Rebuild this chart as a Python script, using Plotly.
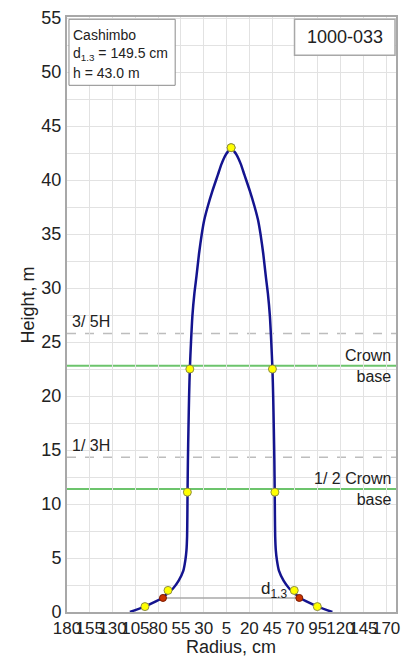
import plotly.graph_objects as go

# Stem profile: radius (cm) against height (m)
stem_h = [0, 0.5, 1.0, 1.3, 1.7, 2.2, 2.9, 3.8, 4.8, 5.7, 7.0, 9.0, 11.1, 14.0, 17.0,
          20.0, 22.5, 25.0, 27.4, 29.5, 31.1, 33.2, 35.0, 36.3, 37.6, 39.0, 40.5, 41.5, 42.4, 43.0]
stem_r = [111, 95, 82, 75.5, 70, 63.5, 57.5, 52.5, 50.2, 49.0, 48.3, 48.0, 47.8, 47.4, 46.8,
          46.1, 45.3, 44.0, 42.5, 40.3, 38.0, 35.2, 32.2, 29.5, 25.5, 20.5, 14.5, 10.5, 5.5, 0]

# Measured points on the stem
point_h = [0.5, 2.0, 11.1, 22.5, 43.0]
point_r = [94.5, 69.2, 48.0, 45.3, 0.0]

species = "Cashimbo"
tree_id = "1000-033"
dbh_cm = 149.5
tree_h = 43.0
breast_h = 1.3
crown_base = 22.8

x_ticks = list(range(-180, 171, 25))
x_ticktext = [str(abs(v)) for v in x_ticks]

FONT = "Liberation Sans, Arial, sans-serif"
NAVY = "#14148f"
GREEN = "#6cc46c"
GRID = "#e2e2e2"

fig = go.Figure()

# Left and right halves of the stem outline
for sign in (-1, 1):
    fig.add_trace(go.Scatter(x=[sign * r for r in stem_r], y=stem_h, mode="lines",
                             line=dict(color=NAVY, width=2.5, shape="spline", smoothing=0.6),
                             hoverinfo="skip"))

# Breast-height diameter line
half_d = dbh_cm / 2
fig.add_trace(go.Scatter(x=[-half_d, half_d], y=[breast_h, breast_h], mode="lines",
                         line=dict(color="#a8a8a8", width=1.6), hoverinfo="skip"))

# Measured points, both sides
fig.add_trace(go.Scatter(x=[-r for r in point_r] + point_r, y=point_h + point_h,
                         mode="markers",
                         marker=dict(color="#ffff00", size=8, line=dict(color="#8f8f40", width=1))))
fig.add_trace(go.Scatter(x=[-half_d, half_d], y=[breast_h, breast_h], mode="markers",
                         marker=dict(color="#cc3300", size=7, line=dict(color="#7a1a00", width=1))))

shapes = []
# Reference heights
for yv in (tree_h * 3 / 5, tree_h / 3):
    shapes.append(dict(type="line", xref="paper", x0=0, x1=1, yref="y", y0=yv, y1=yv,
                       line=dict(color="#bdbdbd", width=1.5, dash="dash"), layer="between"))
for yv in (crown_base, crown_base / 2):
    shapes.append(dict(type="line", xref="paper", x0=0, x1=1, yref="y", y0=yv, y1=yv,
                       line=dict(color=GREEN, width=2), layer="between"))

# Info boxes (paper coordinates)
W, H = 333.0, 601.0
def px(x):
    return (x - 67) / W
def py(y):
    return (612 - y) / H

shapes.append(dict(type="rect", xref="paper", yref="paper", x0=px(69), x1=px(176.5),
                   y0=py(80), y1=py(13.3), fillcolor="white",
                   line=dict(color="#8a8a8a", width=1), layer="above"))
shapes.append(dict(type="rect", xref="paper", yref="paper", x0=px(297.3), x1=px(399),
                   y0=py(49.7), y1=py(13.3), fillcolor="white",
                   line=dict(color="#a8a8a8", width=1.5), layer="above"))

ann = []
info_lines = [species, f"d<sub>1.3</sub> = {dbh_cm:.1f} cm", f"h = {tree_h:.1f} m"]
for i, t in enumerate(info_lines):
    ann.append(dict(text=t, xref="paper", yref="paper", x=px(71), y=py(29 + i * 19.5),
                    xanchor="left", yanchor="middle", showarrow=False,
                    font=dict(family=FONT, size=14, color="#222")))
ann.append(dict(text=tree_id, xref="paper", yref="paper", x=px(348), y=py(31.5),
                xanchor="center", yanchor="middle", showarrow=False,
                font=dict(family=FONT, size=18, color="#222")))

# Labels for reference heights
ann.append(dict(text="3/ 5H", xref="paper", yref="y", x=px(70), y=tree_h * 3 / 5,
                xanchor="left", yanchor="bottom", yshift=1, showarrow=False,
                font=dict(family=FONT, size=16, color="#222")))
ann.append(dict(text="1/ 3H", xref="paper", yref="y", x=px(70), y=tree_h / 3,
                xanchor="left", yanchor="bottom", yshift=1, showarrow=False,
                font=dict(family=FONT, size=16, color="#222")))
ann.append(dict(text="Crown<br>base", xref="paper", yref="y", x=px(397), y=crown_base,
                xanchor="right", yanchor="middle", align="right", showarrow=False,
                font=dict(family=FONT, size=16, color="#222")))
ann.append(dict(text="1/ 2 Crown<br>base", xref="paper", yref="y", x=px(397), y=crown_base / 2,
                xanchor="right", yanchor="middle", align="right", showarrow=False,
                font=dict(family=FONT, size=16, color="#222")))
ann.append(dict(text="d<sub>1.3</sub>", xref="x", yref="y", x=63, y=2.0,
                xanchor="right", yanchor="middle", showarrow=False,
                font=dict(family=FONT, size=17, color="#222")))

# Axis titles
ann.append(dict(text="Height, m", xref="paper", yref="paper", x=px(28), y=py(302),
                xanchor="center", yanchor="middle", textangle=-90, showarrow=False,
                font=dict(family=FONT, size=18, color="#222")))
ann.append(dict(text="Radius, cm", xref="paper", yref="paper", x=px(233), y=py(647),
                xanchor="center", yanchor="middle", showarrow=False,
                font=dict(family=FONT, size=18, color="#222")))

fig.update_layout(
    width=408, height=659,
    margin=dict(l=67, r=8, t=11, b=47),
    paper_bgcolor="white", plot_bgcolor="white",
    showlegend=False,
    shapes=shapes, annotations=ann,
    font=dict(family=FONT, size=17, color="#222"),
)
fig.update_xaxes(range=[-180, 180.8], tickvals=x_ticks, ticktext=x_ticktext, tickangle=0,
                 showgrid=True, gridcolor=GRID, gridwidth=1, zeroline=False,
                 showline=True, linecolor="#a8a8a8", linewidth=2, mirror=True,
                 ticks="", tickfont=dict(size=17))
fig.update_yaxes(range=[0, 55.1], dtick=5, tick0=0,
                 showgrid=True, gridcolor=GRID, gridwidth=1, zeroline=False,
                 minor=dict(dtick=2.5, showgrid=True, gridcolor=GRID),
                 showline=True, linecolor="#a8a8a8", linewidth=2, mirror=True,
                 ticks="", tickfont=dict(size=18))

fig.write_html("out.html")
